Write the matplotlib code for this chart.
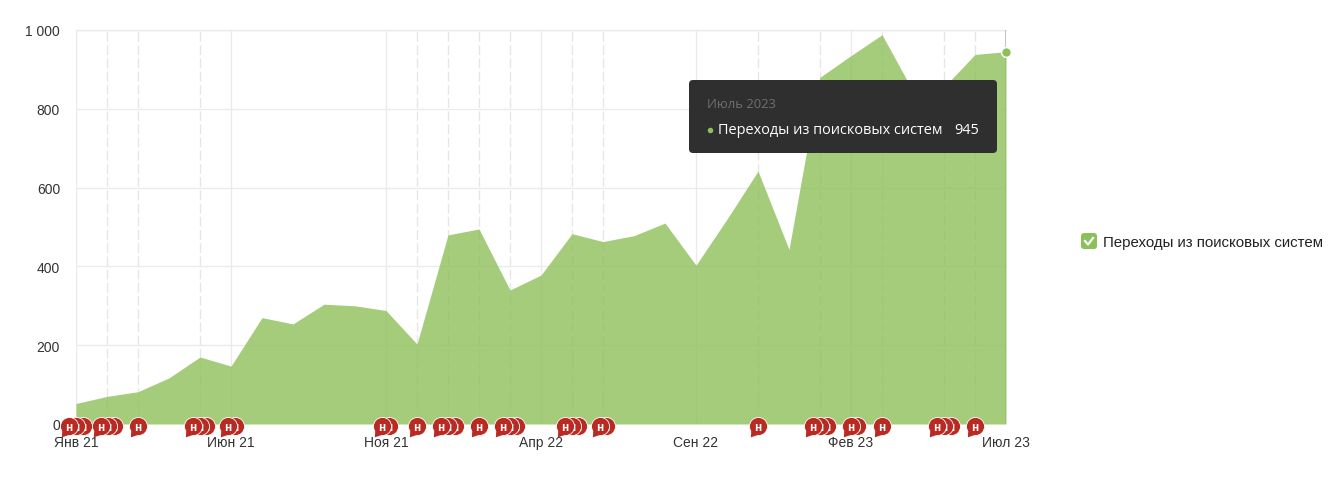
import matplotlib
matplotlib.use('Agg')
import matplotlib.pyplot as plt
import numpy as np
from matplotlib.patches import FancyBboxPatch
from matplotlib.path import Path
from matplotlib.transforms import Affine2D

# monthly values, Jan 21 .. Jul 23
values = [52, 70, 82, 117, 170, 147, 270, 254, 304, 300, 288, 203,
          480, 495, 340, 378, 483, 463, 478, 510, 403, 520, 642, 443,
          880, 935, 988, 845, 855, 938, 945]
tick_months = [0, 5, 10, 15, 20, 25, 30]
tick_labels = ['Янв 21', 'Июн 21', 'Ноя 21', 'Апр 22', 'Сен 22', 'Фев 23', 'Июл 23']
y_ticks = [0, 200, 400, 600, 800, 1000]
y_labels = ['0', '200', '400', '600', '800', '1 000']
dashed_months = [1, 2, 4, 11, 12, 13, 14, 16, 17, 22, 24, 26, 28, 29]
# note bubbles, position in months
notes = [-0.23, 0.0, 0.23, 0.81, 1.03, 1.23, 2.0, 3.77, 4.0, 4.2, 4.9, 5.13,
         9.87, 10.1, 11.0, 11.77, 12.0, 12.23, 13.0, 13.77, 14.0, 14.2,
         15.77, 16.0, 16.2, 16.9, 17.1, 22.0, 23.77, 24.0, 24.23, 25.0, 25.2,
         26.0, 27.77, 28.0, 28.23, 29.0]
series_name = 'Переходы из поисковых систем'
tooltip_title = 'Июль 2023'

GREEN = '#8dc05a'
RED = '#b92a22'
GRID = '#ebebeb'
W, H = 1340, 489
L, R, T, B = 76, 1006, 31, 425

plt.rcParams['font.family'] = ['Liberation Sans', 'DejaVu Sans']
fig = plt.figure(figsize=(W / 100, H / 100), dpi=100)
ax = fig.add_axes([L / W, 1 - B / H, (R - L) / W, (B - T) / H])
months = np.arange(len(values))

ax.set_xlim(0, 30)
ax.set_ylim(0, 1000)
for s in ax.spines.values():
    s.set_visible(False)
ax.set_axisbelow(True)
ax.grid(axis='y', color=GRID, lw=1)
for m in tick_months:
    ax.axvline(m, color=GRID, lw=1, zorder=0.5)
for m in dashed_months:
    ax.axvline(m, color='#e6e6e6', lw=1, ls=(0, (7, 2.5)), zorder=0.5)
ax.axvline(30, color='#c4c4c4', lw=1.5, zorder=0.6)
ax.plot([0, 30], [1000, 1000], color=GRID, lw=1, clip_on=False, zorder=0.5)

ax.fill_between(months, values, 0, color=GREEN, alpha=0.8, lw=0, zorder=2)
ax.plot(months[-1], values[-1], 'o', ms=7, mfc=GREEN, mec='white', mew=1, clip_on=False, zorder=6)

ax.set_xticks(tick_months, tick_labels)
ax.set_yticks(y_ticks, y_labels)
ax.tick_params(length=0, labelsize=10, colors='#333333')
ax.tick_params(axis='x', pad=8)
ax.tick_params(axis='y', pad=11.5)

# bubbles: leftmost of a group lies on top and is the only one showing its tail
trans = ax.get_xaxis_transform() + Affine2D().translate(0, -2)
tail = Path([(-0.8, -0.5), (-0.85, -1.2), (-0.1, -0.95), (-0.8, -0.5)], closed=True)
for i, n in enumerate(notes):
    z = 20 + (len(notes) - i) * 0.1
    ax.plot(n, 0, 'o', ms=13, mfc=RED, mec='white', mew=0.6, transform=trans, clip_on=False, zorder=z)
    if i == 0 or n - notes[i - 1] > 0.4:
        ax.plot(n, 0, marker=tail, ms=15.6, mfc=RED, mec='none', transform=trans, clip_on=False, zorder=z + 0.005)
    ax.text(n, 0, 'н', color='white', fontsize=8.5, fontweight='bold', ha='center', va='center_baseline',
            transform=trans, clip_on=False, zorder=z + 0.01)

# overlay in pixel coordinates for tooltip and legend
over = fig.add_axes([0, 0, 1, 1], facecolor='none')
over.set_xlim(0, W)
over.set_ylim(H, 0)
over.axis('off')
over.add_patch(FancyBboxPatch((692, 84), 302, 67, boxstyle='round,pad=3,rounding_size=4',
                              fc='#2f2f2f', ec='none'))
ui_font = ['Open Sans', 'DejaVu Sans']
over.text(707, 104, tooltip_title, color='#6f6f6f', fontsize=9.4, family=ui_font, va='center')
over.plot(710, 130.5, 'o', ms=4, mfc=GREEN, mec='none')
over.text(718, 131, series_name, color='white', fontsize=10.45, family=ui_font, va='center')
over.text(979, 131, str(values[-1]), color='white', fontsize=10.45, family=ui_font, va='center', ha='right')

over.add_patch(FancyBboxPatch((1083, 236), 12, 12, boxstyle='round,pad=2,rounding_size=3',
                              fc=GREEN, ec='none'))
over.plot([1085, 1088, 1093], [242, 245.5, 239], color='white', lw=1.6)
over.text(1103, 243.5, series_name, color='#222222', fontsize=10.8, va='center')

fig.savefig('out.png', dpi=100)
